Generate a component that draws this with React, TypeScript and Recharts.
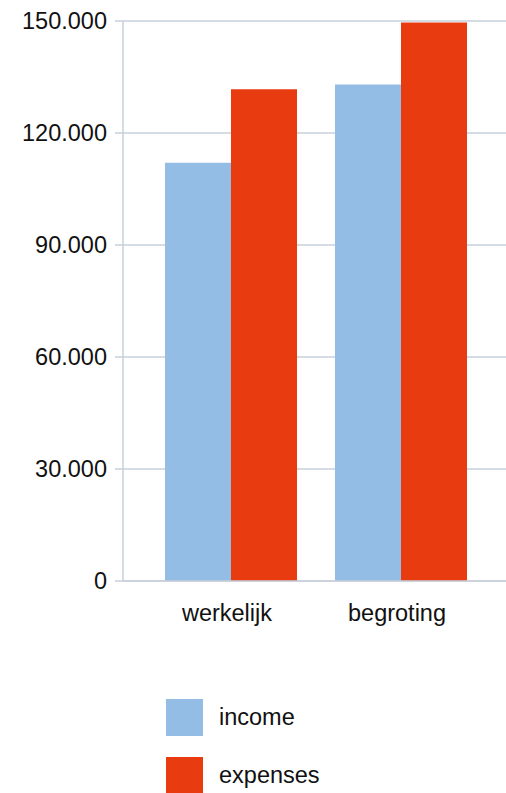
import { BarChart, Bar, XAxis, YAxis, CartesianGrid, Legend } from 'recharts';

const categories = ['werkelijk', 'begroting'];
const income = [112000, 133000];
const expenses = [131700, 149600];
const yTicks = [0, 30000, 60000, 90000, 120000, 150000];
const seriesOrder = ['income', 'expenses'];

const FONT = '"Liberation Sans", Arial, sans-serif';
const FS = 23.5;
const GRID = '#c9d1da';

const data = categories.map((name, i) => ({ name, income: income[i], expenses: expenses[i] }));

const fmt = (v: number) => (v === 0 ? '0' : v.toLocaleString('de-DE'));

function LegendBox({ payload }: any) {
  const items = [...(payload || [])].sort(
    (a: any, b: any) => seriesOrder.indexOf(a.value) - seriesOrder.indexOf(b.value)
  );
  return (
    <div style={{ fontFamily: FONT, fontSize: FS, color: '#111' }}>
      {items.map((p: any) => (
        <div key={p.value} style={{ display: 'flex', alignItems: 'center', height: 37, marginBottom: 21 }}>
          <div style={{ width: 37, height: 37, background: p.color, marginRight: 16 }} />
          <span>{p.value}</span>
        </div>
      ))}
    </div>
  );
}

export default function App() {
  return (
    <div style={{ position: 'absolute', left: 0, top: 0, background: '#fff' }}>
      <BarChart
        width={506}
        height={793}
        data={data}
        margin={{ top: 21, right: 0, left: 0, bottom: 66 }}
        barCategoryGap={19}
        barGap={0}
      >
        <CartesianGrid vertical={false} stroke={GRID} strokeWidth={1.5} />
        <XAxis
          dataKey="name"
          axisLine={{ stroke: GRID, strokeWidth: 1.5 }}
          tickLine={false}
          tickSize={8}
          tickMargin={15}
          padding={{ left: 23, right: 20 }}
          height={30}
          tick={{ fill: '#111', fontSize: FS, fontFamily: FONT, dx: -4 }}
        />
        <YAxis
          width={123}
          domain={[0, 150000]}
          ticks={yTicks}
          tickFormatter={fmt}
          axisLine={{ stroke: GRID, strokeWidth: 1.5 }}
          tickLine={{ stroke: GRID, strokeWidth: 1.5 }}
          tickSize={8}
          tickMargin={8}
          interval={0}
          tick={{ fill: '#111', fontSize: FS, fontFamily: FONT }}
        />
        <Legend
          content={<LegendBox />}
          wrapperStyle={{ position: 'absolute', left: 166, top: 699, width: 200, height: 116 }}
        />
        <Bar dataKey="income" name="income" fill="#94bde6" isAnimationActive={false} />
        <Bar dataKey="expenses" name="expenses" fill="#e83c10" isAnimationActive={false} />
      </BarChart>
    </div>
  );
}
